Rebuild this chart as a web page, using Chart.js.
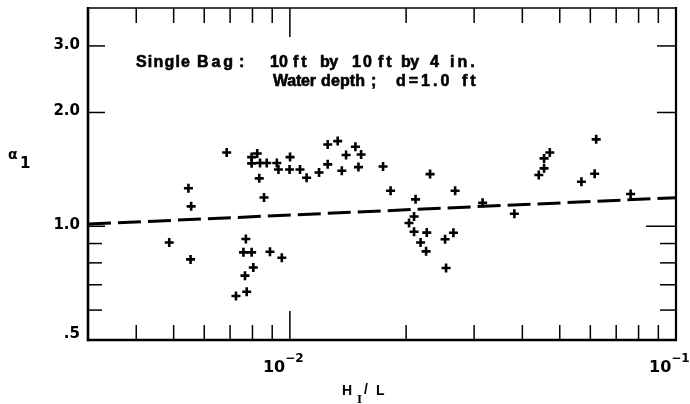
<!DOCTYPE html>
<html>
<head>
<meta charset="utf-8">
<script src="https://cdn.jsdelivr.net/npm/chart.js@4/dist/chart.umd.min.js"></script>
<style>
  html, body { margin: 0; padding: 0; background: #fff; }
  #wrap { width: 690px; height: 404px; }
</style>
</head>
<body>
<div id="wrap"><canvas id="c" width="690" height="404"></canvas></div>
<script>
// ---- data ----
const hL = [0.00487,0.00546,0.00555,0.00553,0.00686,0.00796,0.00823,0.00796,0.00837,0.00871,
            0.00925,0.01001,0.00934,0.00998,0.01062,0.00833,0.00857,0.01105,0.0119,0.01253,
            0.01253,0.0133,0.01398,0.01478,0.01529,0.01363,0.01505,0.01743,0.01823,0.02116,
            0.02307,0.02679,0.03156,0.03814,0.02652,0.02097,0.02035,0.02097,0.02262,0.0218,
            0.02253,0.02523,0.02538,0.00769,0.00758,0.00796,0.00888,0.00953,0.00804,0.00765,
            0.00725,0.00773,0.06213,0.04711,0.04553,0.04553,0.04412,0.06157,0.05689,0.07629];
const alpha1 = [0.906,1.260,1.129,0.817,1.567,1.524,1.557,1.467,1.470,1.470,
                1.470,1.524,1.413,1.413,1.413,1.339,1.191,1.344,1.387,1.458,
                1.645,1.680,1.543,1.623,1.548,1.402,1.434,1.439,1.241,1.178,
                1.374,1.241,1.153,1.079,0.961,1.061,1.020,0.967,0.962,0.906,
                0.858,0.924,0.775,0.925,0.853,0.853,0.856,0.825,0.778,0.740,
                0.654,0.671,1.698,1.567,1.512,1.423,1.366,1.377,1.311,1.217];
const fitX = [0.003, 0.1];
const fitY = [1.013, 1.19];

const xMajorTicks = [0.01, 0.1];
const xMinorTicks = [0.004,0.005,0.006,0.007,0.008,0.009,0.02,0.03,0.04,0.05,0.06,0.07,0.08,0.09];
const xTickBase = ["10", "10"];
const xTickExp = ["\u22122", "\u22121"];
const yMajorTicks = [0.5, 1.0, 2.0, 3.0];
const yTickLabels = [".5", "1.0", "2.0", "3.0"];
const yMinorTicks = [0.6, 0.7, 0.8, 0.9];

const note1 = [["Single",136,190],["Bag",197,233],[":",239,247],["10",270,288],["ft",293,309],
               ["by",320,337],["10",352,372],["ft",378,394],["by",401,419],["4",430,439],["in.",450,478]];
const note2 = [["Water",273,316],["depth",321,365],[";",371,375],["d=1.0",396,457],["ft",462,478]];

const scatterData = hL.map((v, i) => ({x: v, y: alpha1[i]}));
const fitData = fitX.map((v, i) => ({x: v, y: fitY[i]}));

function seg(ctx, x1, y1, x2, y2, w) {
  ctx.lineWidth = w;
  ctx.beginPath(); ctx.moveTo(x1, y1); ctx.lineTo(x2, y2); ctx.stroke();
}
function fitText(ctx, txt, x0, x1, yb) {
  ctx.letterSpacing = '0px';
  if (txt.length > 1) {
    const w = ctx.measureText(txt).width;
    const ls = Math.max(-0.5, Math.min(3, (x1 - x0 - w) / (txt.length - 1)));
    ctx.letterSpacing = ls + 'px';
  }
  ctx.fillText(txt, x0, yb);
  ctx.lineWidth = 0.6;
  ctx.strokeText(txt, x0, yb);
  ctx.letterSpacing = '0px';
}

const deco = {
  id: 'deco',
  afterDraw(chart) {
    const ctx = chart.ctx, a = chart.chartArea, xs = chart.scales.x, ys = chart.scales.y;
    ctx.save();
    ctx.strokeStyle = '#000'; ctx.fillStyle = '#000'; ctx.lineCap = 'butt';
    // frame
    seg(ctx, a.left, a.top - 1, a.left, a.bottom + 1.2, 2.6);
    seg(ctx, a.left - 1, a.bottom, a.right + 1, a.bottom, 2.4);
    seg(ctx, a.left, a.top, a.right, a.top, 1.6);
    seg(ctx, a.right, a.top - 1, a.right, a.bottom + 1, 2.2);
    // x ticks
    xMinorTicks.forEach(v => {
      const px = xs.getPixelForValue(v);
      seg(ctx, px, a.top, px, a.top + 15, 1.5);
      seg(ctx, px, a.bottom, px, a.bottom - 15, 1.5);
    });
    xMajorTicks.forEach((v, i) => {
      const px = xs.getPixelForValue(v);
      seg(ctx, px, a.top, px, a.top + 29, 1.5);
      seg(ctx, px, a.bottom, px, a.bottom - 29, 1.5);
      ctx.textAlign = 'left'; ctx.textBaseline = 'alphabetic';
      ctx.font = 'bold 16px "DejaVu Sans"';
      const lx = px - 27;
      ctx.fillText(xTickBase[i], lx, 372);
      const bw = ctx.measureText(xTickBase[i]).width;
      ctx.font = 'bold 12px "DejaVu Sans"';
      ctx.fillText(xTickExp[i], lx + bw, 362);
    });
    // y ticks
    yMinorTicks.forEach(v => {
      const py = ys.getPixelForValue(v);
      seg(ctx, a.left, py, a.left + 14, py, 1.5);
      seg(ctx, a.right, py, a.right - 16, py, 1.5);
    });
    ctx.font = 'bold 15px "DejaVu Sans"';
    ctx.textAlign = 'right'; ctx.textBaseline = 'middle';
    yMajorTicks.forEach((v, i) => {
      const py = ys.getPixelForValue(v);
      if (v !== 0.5) {
        seg(ctx, a.left, py, a.left + 17, py, 1.5);
        seg(ctx, a.right, py, a.right - (v === 1 ? 30 : 19), py, 1.5);
      }
      ctx.fillText(yTickLabels[i], 80, v === 0.5 ? py - 6 : py - 1);
    });
    // annotation
    ctx.textAlign = 'left'; ctx.textBaseline = 'alphabetic';
    ctx.font = 'bold 16px "Liberation Sans"';
    note1.forEach(t => fitText(ctx, t[0], t[1], t[2], 67));
    note2.forEach(t => fitText(ctx, t[0], t[1], t[2], 86));
    // axis titles
    ctx.font = 'bold 14px "DejaVu Sans"';
    ctx.fillText('\u03B1', 8, 159);
    ctx.font = 'bold 15px "DejaVu Sans"';
    ctx.fillText('1', 20, 168);
    ctx.font = 'bold 14px "Liberation Sans"';
    ctx.fillText('H', 342, 395);
    ctx.font = 'bold 13px "Liberation Serif"';
    ctx.fillText('I', 357, 403);
    ctx.font = 'bold 14px "Liberation Sans"';
    ctx.fillText('/', 364, 394);
    ctx.fillText('L', 376, 395);
    ctx.restore();
  }
};

new Chart(document.getElementById('c'), {
  data: {
    datasets: [
      {
        type: 'scatter',
        data: scatterData,
        pointStyle: 'cross',
        pointRadius: 4.5,
        pointBorderWidth: 2.6,
        borderColor: '#000',
        backgroundColor: '#000',
        showLine: false
      },
      {
        type: 'line',
        data: fitData,
        borderColor: '#000',
        borderWidth: 3,
        borderDash: [23, 7],
        pointRadius: 0,
        fill: false,
        tension: 0
      }
    ]
  },
  options: {
    responsive: false,
    devicePixelRatio: 1,
    animation: false,
    layout: { padding: { left: 88, right: 14, top: 8, bottom: 64 } },
    plugins: { legend: { display: false }, tooltip: { enabled: false } },
    scales: {
      x: { type: 'logarithmic', min: 0.003, max: 0.1, display: false },
      y: { type: 'logarithmic', min: 0.5, max: 3.78, display: false }
    }
  },
  plugins: [deco]
});
</script>
</body>
</html>
